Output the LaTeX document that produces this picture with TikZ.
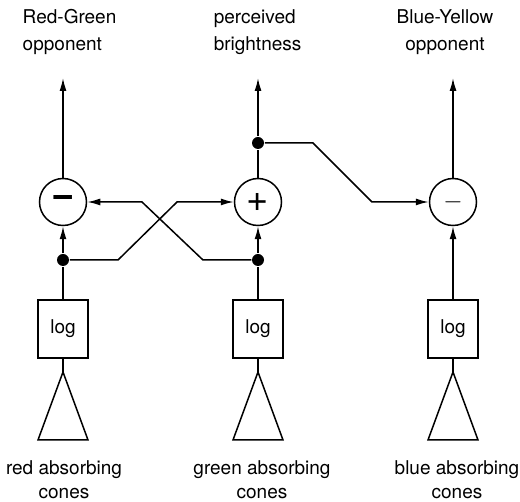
\documentclass[tikz,border=0pt]{standalone}
\usepackage{fontspec}
\setmainfont{TeX Gyre Heros}
\usepackage{tikz}
\usetikzlibrary{arrows.meta, positioning}

\begin{document}
\begin{tikzpicture}[x=1pt, y=-1pt,
				>={Latex[length=13pt,width=7pt]},
				line width=1.5pt,
				sum/.style={draw, circle, minimum size=47pt, inner sep=0pt},
				logbox/.style={draw, rectangle, minimum width=50pt, minimum height=58pt,
					inner sep=0pt, font=\fontsize{19}{20}\selectfont},
				dot/.style={fill, circle, minimum size=12pt, inner sep=0pt},
				toplabel/.style={inner sep=0pt, font=\fontsize{19}{27}\selectfont},
				conelabel/.style={inner sep=0pt, anchor=north, align=center,
					font=\fontsize{19}{24}\selectfont}]
				\useasboundingbox (0,0) rectangle (520,502);
				\node at (22,9) (rg) [toplabel, anchor=north west, align=left] {Red-Green\\opponent};
				\node at (213,9) (br) [toplabel, anchor=north west, align=left] {perceived\\brightness};
				\node at (445,9) (by) [toplabel, anchor=north, align=center] {Blue-Yellow\\opponent};
				\coordinate (outL) at (63,78);
				\coordinate (outM) at (258,78);
				\coordinate (outR) at (453,78);
				\node at (63,202) (sumL) [sum] {\fontsize{40}{40}\selectfont\bfseries −};
				\node at (258,202) (sumM) [sum] {\fontsize{38}{38}\selectfont +};
				\node at (453,202) (sumR) [sum] {\fontsize{28}{28}\selectfont $-$};
				\node at (258,143) (jT) [dot] {};
				\node at (63,260) (jL) [dot] {};
				\node at (258,260) (jM) [dot] {};
				\node at (63,329) (logL) [logbox] {log};
				\node at (258,329) (logM) [logbox] {log};
				\node at (453,329) (logR) [logbox] {log};
				\coordinate (coneL) at (63,372);
				\coordinate (coneM) at (258,372);
				\coordinate (coneR) at (453,372);
				\node at (64,460) (redc) [conelabel] {red absorbing\\cones};
				\node at (262,460) (greenc) [conelabel] {green absorbing\\cones};
				\node at (457,460) (bluec) [conelabel] {blue absorbing\\cones};
				\draw (coneL) -- ++(-25,68) -- ++(50,0) -- cycle;
				\draw (coneM) -- ++(-25,68) -- ++(50,0) -- cycle;
				\draw (coneR) -- ++(-25,68) -- ++(50,0) -- cycle;
				\draw (coneL) -- (logL);
				\draw (coneM) -- (logM);
				\draw (coneR) -- (logR);
				\draw (logL) -- (jL);
				\draw (logM) -- (jM);
				\draw[->] (logR) -- (sumR);
				\draw[->] (jL) -- (sumL);
				\draw[->] (jM) -- (sumM);
				\draw[->] (jL) -- ++(55,0) -- (177,202) -- (sumM);
				\draw[->] (jM) -- ++(-55,0) -- (142,202) -- (sumL);
				\draw (sumM) -- (jT);
				\draw[->] (jT) -- ++(55,0) -- (372,202) -- (sumR);
				\draw[->] (sumL) -- (outL);
				\draw[->] (jT) -- (outM);
				\draw[->] (sumR) -- (outR);
			\end{tikzpicture}
\end{document}
